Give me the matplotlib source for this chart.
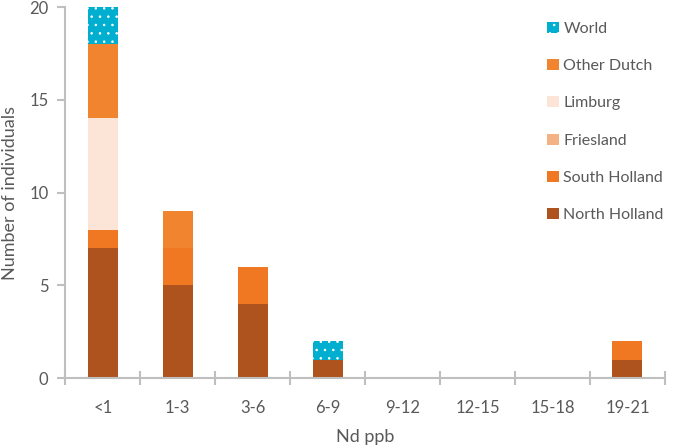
import numpy as np
import matplotlib.pyplot as plt

plt.rcParams['font.family'] = ['Lato', 'DejaVu Sans']
plt.rcParams['hatch.linewidth'] = 0.6

categories = ['<1', '1-3', '3-6', '6-9', '9-12', '12-15', '15-18', '19-21']
north_holland = [7, 5, 4, 1, 0, 0, 0, 1]
south_holland = [1, 2, 2, 0, 0, 0, 0, 1]
friesland = [0, 0, 0, 0, 0, 0, 0, 0]
limburg = [6, 0, 0, 0, 0, 0, 0, 0]
other_dutch = [4, 2, 0, 0, 0, 0, 0, 0]
world = [2, 0, 0, 1, 0, 0, 0, 0]

series = [
    ('North Holland', north_holland, '#AE521E', None),
    ('South Holland', south_holland, '#F07823', None),
    ('Friesland', friesland, '#F4B183', None),
    ('Limburg', limburg, '#FCE4D6', None),
    ('Other Dutch', other_dutch, '#F0842F', None),
    ('World', world, '#00AECF', '..'),
]

grey = '#595959'
axis_col = '#BFBFBF'

fig = plt.figure(figsize=(6.73, 4.47), dpi=100)
ax = fig.add_axes([0.097, 0.154, 0.891, 0.830])

x = np.arange(len(categories))
bottom = np.zeros(len(categories))
for name, vals, col, hatch in series:
    vals = np.array(vals, dtype=float)
    if hatch:
        ax.bar(x, vals, 0.4, bottom=bottom, color=col, edgecolor='white',
               linewidth=0, hatch=hatch, label=name)
    else:
        ax.bar(x, vals, 0.4, bottom=bottom, color=col, linewidth=0, label=name)
    bottom += vals

ax.set_xlim(-0.5, len(categories) - 0.5)
ax.set_ylim(0, 20)
ax.set_yticks([0, 5, 10, 15, 20])
ax.set_xticks(x)
ax.set_xticklabels(categories)
ax.set_xticks(np.arange(-0.5, len(categories)), minor=True)
ax.tick_params(axis='x', which='major', length=0, pad=16, labelsize=12, labelcolor=grey)
ax.tick_params(axis='x', which='minor', length=10, direction='inout', color=axis_col, width=1.5)
ax.tick_params(axis='y', length=6, color=axis_col, width=1.5, labelsize=12, labelcolor=grey, pad=6)

for s in ['top', 'right']:
    ax.spines[s].set_visible(False)
for s in ['left', 'bottom']:
    ax.spines[s].set_color(axis_col)
    ax.spines[s].set_linewidth(1.5)

ax.set_xlabel('Nd ppb', fontsize=13, color=grey, labelpad=9)
ax.set_ylabel('Number of individuals', fontsize=13, color=grey, labelpad=8)

handles, labels = ax.get_legend_handles_labels()
leg = ax.legend(handles[::-1], labels[::-1], loc='upper left', bbox_to_anchor=(0.78, 1.0),
                frameon=False, fontsize=11.5, labelcolor=grey, handlelength=0.7,
                handleheight=0.7, handletextpad=0.3, labelspacing=1.45)

fig.savefig('out.png', dpi=100)
